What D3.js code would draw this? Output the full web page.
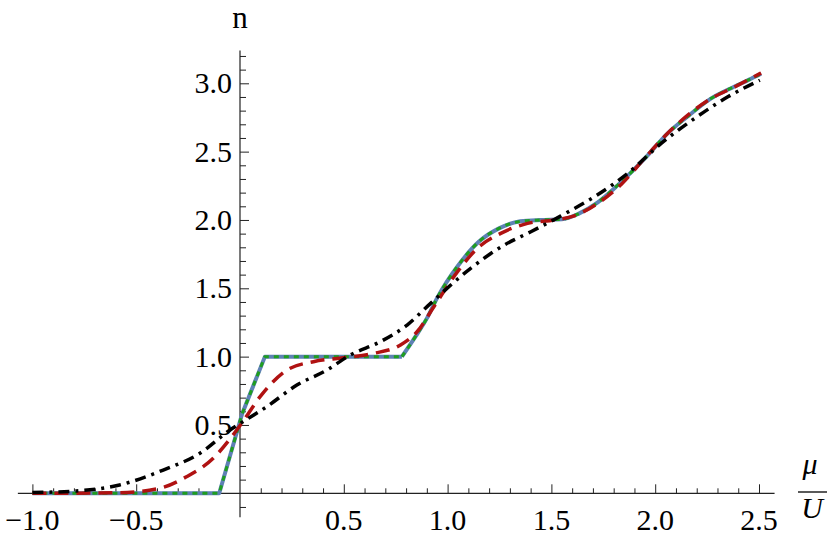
<!DOCTYPE html>
<html>
<head>
<meta charset="utf-8">
<script src="https://cdn.jsdelivr.net/npm/d3@7"></script>
<style>
body { margin: 0; background: #fff; }
text { font-family: "Liberation Serif", serif; fill: #000; }
</style>
</head>
<body>
<div id="chart"></div>
<script>
// step-like curve (blue solid, green dotted on top of it)
var muStep = [-1.0, -0.1, 0.01, 0.12, 0.78, 0.845, 0.90, 0.95, 1.05, 1.15, 1.25, 1.35, 1.45, 1.55, 1.63, 1.72, 1.82, 1.95, 2.06, 2.15, 2.27, 2.38, 2.45, 2.51];
var nStep = [0, 0, 0.58, 1.0, 1.0, 1.146, 1.28, 1.43, 1.665, 1.84, 1.94, 1.99, 2.0, 2.005, 2.045, 2.125, 2.255, 2.45, 2.634, 2.75, 2.89, 2.975, 3.025, 3.07];
var stepKink = 4; // straight pieces up to here, smooth after

// red dashed curve
var muRed = [-1.0, -0.58, -0.386, -0.258, -0.129, -0.04, 0.008, 0.097, 0.226, 0.354, 0.5, 0.644, 0.773, 0.853, 0.934, 1.047, 1.143, 1.256, 1.385, 1.514, 1.61, 1.723, 1.836, 1.948, 2.06, 2.157, 2.27, 2.383, 2.51];
var nRed = [0.0, 0.004, 0.037, 0.121, 0.256, 0.414, 0.512, 0.707, 0.902, 0.963, 0.992, 1.024, 1.085, 1.182, 1.365, 1.62, 1.792, 1.902, 1.975, 2.0, 2.03, 2.121, 2.26, 2.45, 2.634, 2.767, 2.889, 2.974, 3.075];

// black dash-dot curve
var muBlack = [-1.0, -0.789, -0.58, -0.37, -0.193, -0.048, 0.0, 0.129, 0.274, 0.419, 0.531, 0.676, 0.805, 0.918, 1.111, 1.272, 1.401, 1.546, 1.707, 1.867, 2.029, 2.19, 2.35, 2.504];
var nBlack = [0.006, 0.017, 0.061, 0.17, 0.293, 0.463, 0.51, 0.634, 0.792, 0.902, 1.012, 1.109, 1.231, 1.39, 1.646, 1.816, 1.914, 2.03, 2.17, 2.34, 2.56, 2.743, 2.901, 3.023];

var xTickVals = [-1.0, -0.5, 0.5, 1.0, 1.5, 2.0, 2.5];
var xTickLabels = ["\u22121.0", "\u22120.5", "0.5", "1.0", "1.5", "2.0", "2.5"];
var yTickVals = [0.5, 1.0, 1.5, 2.0, 2.5, 3.0];
var yTickLabels = ["0.5", "1.0", "1.5", "2.0", "2.5", "3.0"];

var width = 830, height = 540;

var svg = d3.select("#chart")
	.append("svg")
	.attr("width", width)
	.attr("height", height);

var x = d3.scaleLinear().domain([0, 2.5]).range([240, 759]);
var y = d3.scaleLinear().domain([0, 3]).range([493.3, 83.3]);

var axisColor = "#222";

// axis lines
svg.append("line")
	.attr("x1", x(-1.07)).attr("x2", x(2.575))
	.attr("y1", y(0)).attr("y2", y(0))
	.attr("stroke", axisColor).attr("stroke-width", 1.2);
svg.append("line")
	.attr("x1", x(0)).attr("x2", x(0))
	.attr("y1", y(3.24)).attr("y2", y(-0.175))
	.attr("stroke", axisColor).attr("stroke-width", 1.2);

// x ticks (pointing up)
var xMinor = d3.range(-10, 26).map(d => d / 10).filter(d => d != 0 && Math.round(d * 10) % 5 != 0);
svg.append("g").attr("transform", "translate(0," + y(0) + ")")
	.call(d3.axisTop(x).tickValues(xMinor).tickSize(5).tickFormat(""))
	.call(g => g.select(".domain").remove())
	.call(g => g.selectAll("line").attr("stroke", axisColor));
svg.append("g").attr("transform", "translate(0," + y(0) + ")")
	.call(d3.axisTop(x).tickValues(xTickVals).tickSize(9).tickFormat(""))
	.call(g => g.select(".domain").remove())
	.call(g => g.selectAll("line").attr("stroke", axisColor));

// y ticks (pointing right)
var yMinor = d3.range(-1, 33).map(d => d / 10).filter(d => d != 0 && Math.round(d * 10) % 5 != 0);
svg.append("g").attr("transform", "translate(" + x(0) + ",0)")
	.call(d3.axisRight(y).tickValues(yMinor).tickSize(6).tickFormat(""))
	.call(g => g.select(".domain").remove())
	.call(g => g.selectAll("line").attr("stroke", axisColor));
svg.append("g").attr("transform", "translate(" + x(0) + ",0)")
	.call(d3.axisRight(y).tickValues(yTickVals).tickSize(9).tickFormat(""))
	.call(g => g.select(".domain").remove())
	.call(g => g.selectAll("line").attr("stroke", axisColor));

// tick labels
svg.selectAll(".xlab")
	.data(xTickVals)
	.enter().append("text")
	.attr("class", "xlab")
	.attr("x", d => x(d))
	.attr("y", y(0) + 37)
	.attr("text-anchor", "middle")
	.style("font-size", "30px")
	.text((d, i) => xTickLabels[i]);

svg.selectAll(".ylab")
	.data(yTickVals)
	.enter().append("text")
	.attr("class", "ylab")
	.attr("x", x(0) - 8)
	.attr("y", d => y(d) + 10)
	.attr("text-anchor", "end")
	.style("font-size", "30px")
	.text((d, i) => yTickLabels[i]);

// axis labels
svg.append("text")
	.attr("x", x(0))
	.attr("y", 28)
	.attr("text-anchor", "middle")
	.style("font-size", "31px")
	.text("n");

svg.append("text")
	.attr("x", 810)
	.attr("y", 474)
	.attr("text-anchor", "middle")
	.style("font-size", "30px")
	.style("font-style", "italic")
	.text("\u03bc");
svg.append("line")
	.attr("x1", 798).attr("x2", 827)
	.attr("y1", 492).attr("y2", 492)
	.attr("stroke", "#000").attr("stroke-width", 1.3);
svg.append("text")
	.attr("x", 812)
	.attr("y", 518)
	.attr("text-anchor", "middle")
	.style("font-size", "30px")
	.style("font-style", "italic")
	.text("U");

// curves
function pts(mu, n) { return mu.map((m, i) => [m, n[i]]); }

var lineLin = d3.line().x(d => x(d[0])).y(d => y(d[1])).curve(d3.curveLinear);
var lineSmooth = d3.line().x(d => x(d[0])).y(d => y(d[1])).curve(d3.curveMonotoneX);

var stepPts = pts(muStep, nStep);
var stepA = stepPts.slice(0, stepKink + 1);
var stepB = stepPts.slice(stepKink);

var curves = svg.append("g").attr("fill", "none").attr("stroke-linejoin", "round");

[stepA, stepB].forEach(function(seg, k) {
	curves.append("path")
		.attr("d", k == 0 ? lineLin(seg) : lineSmooth(seg))
		.attr("stroke", "#5e81b5")
		.attr("stroke-width", 4);
});
[stepA, stepB].forEach(function(seg, k) {
	curves.append("path")
		.attr("d", k == 0 ? lineLin(seg) : lineSmooth(seg))
		.attr("stroke", "#1f9e1f")
		.attr("stroke-width", 3)
		.attr("stroke-dasharray", "5,5");
});

curves.append("path")
	.attr("d", lineSmooth(pts(muRed, nRed)))
	.attr("stroke", "#b01212")
	.attr("stroke-width", 3.5)
	.attr("stroke-dasharray", "14,8");

curves.append("path")
	.attr("d", lineSmooth(pts(muBlack, nBlack)))
	.attr("stroke", "#000")
	.attr("stroke-width", 3.5)
	.attr("stroke-dasharray", "11,6,3,6");
</script>
</body>
</html>
